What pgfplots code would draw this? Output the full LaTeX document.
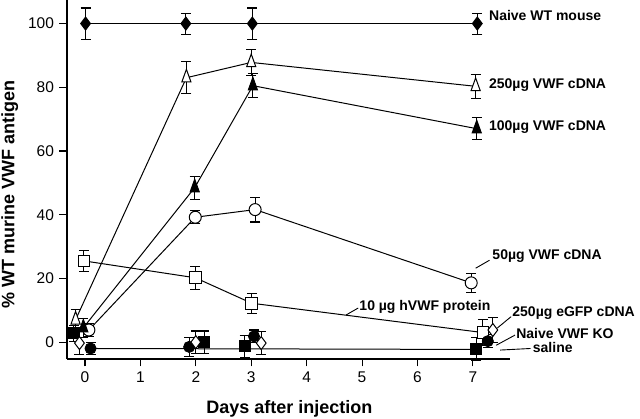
\documentclass[border=0pt]{standalone}
\usepackage{pgfplots}
\pgfplotsset{compat=1.18}
\usepackage{fontspec}
\setmainfont{Liberation Sans}
\begin{document}
\begin{tikzpicture}
\useasboundingbox (-67pt,-60pt) rectangle (573pt,359pt);
\begin{axis}[
 at={(0,0)}, anchor=south west,
 scale only axis, width=443pt, height=359pt,
 xmin=-0.325, xmax=7.67, ymin=-5.3, ymax=107.4,
 axis x line*=bottom, axis y line*=left,
 axis line style={line width=1.2pt, -},
 tick align=outside, major tick length=7.5pt,
 tick style={line width=1.1pt, black},
 xtick={0,...,7}, ytick={0,20,...,100},
 clip=false,
 /pgf/number format/assume math mode=true,
 tick label style={font=\fontsize{15.5}{16}\selectfont},
 xticklabel style={yshift=-2pt},
 yticklabel style={xshift=-2pt},
 xlabel={Days after injection}, ylabel={\% WT murine VWF antigen},
 label style={font=\bfseries\fontsize{18}{20}\selectfont},
 xlabel style={at={(axis description cs:0.502,-0.139)},anchor=center},
 ylabel style={at={(axis description cs:-0.129,0.457)},anchor=center},
 error bars/y dir=both, error bars/y explicit,
 error bars/error mark options={rotate=90, mark size=5pt, line width=1.1pt},
 error bars/error bar style={line width=1.1pt},
]
% flat line near -2
\addplot[black, line width=1pt, no marks] coordinates {(0.1,-2) (7.06,-2.3)};
% 10 ug hVWF protein (open square)
\addplot[black, line width=1pt, mark=square*, mark size=5.8pt, mark options={fill=white}] table[x=x,y=y,y error=e,row sep=\\] {
x y e\\
-0.02 25.5 3.4\\
1.99 20.2 3.6\\
3.01 12.2 3.1\\
7.18 3.0 4.0\\
};
% 50 ug VWF cDNA (open circle)
\addplot[black, line width=1pt, mark=*, mark size=6pt, mark options={fill=white}] table[x=x,y=y,y error=e,row sep=\\] {
x y e\\
0.07 3.8 2.0\\
1.99 39.2 2.0\\
3.07 41.6 3.9\\
6.97 18.6 3.0\\
};
% 100 ug VWF cDNA (filled triangle)
\addplot[black, line width=1pt, mark=triangle*, mark size=7pt, mark options={fill=black, xscale=0.75, yscale=1.2}] table[x=x,y=y,y error=e,row sep=\\] {
x y e\\
-0.03 4.5 3.0\\
1.98 48.5 3.6\\
3.03 80.5 3.7\\
7.07 67.0 3.5\\
};
% 250 ug VWF cDNA (open triangle)
\addplot[black, line width=1pt, mark=triangle*, mark size=7pt, mark options={fill=white, xscale=0.75, yscale=1.2}] table[x=x,y=y,y error=e,row sep=\\] {
x y e\\
-0.17 7.0 3.3\\
1.83 83.0 5.0\\
3.00 87.8 4.0\\
7.05 80.3 3.7\\
};
% Naive WT mouse (filled diamond)
\addplot[black, line width=1pt, mark=diamond*, mark size=6.5pt, mark options={fill=black}] table[x=x,y=y,y error=e,row sep=\\] {
x y e\\
0.01 100 4.9\\
1.82 100 3.3\\
3.02 100 4.9\\
7.08 100 3.3\\
};
% Naive VWF KO (filled square)
\addplot[black, line width=1pt, only marks, mark=square*, mark size=5.5pt, mark options={fill=black}] table[x=x,y=y,y error=e,row sep=\\] {
x y e\\
-0.2 2.8 2.5\\
2.15 0.0 3.5\\
2.88 -1.3 3.5\\
7.06 -2.2 3.6\\
};
% saline (filled circle)
\addplot[black, line width=1pt, only marks, mark=*, mark size=5.5pt, mark options={fill=black}] table[x=x,y=y,y error=e,row sep=\\] {
x y e\\
0.10 -2.0 2.0\\
1.88 -1.5 3.0\\
3.05 1.8 2.0\\
7.27 0.3 2.0\\
};
% 250 ug eGFP cDNA (open diamond)
\addplot[black, line width=1pt, only marks, mark=diamond*, mark size=6.5pt, mark options={fill=white}] table[x=x,y=y,y error=e,row sep=\\] {
x y e\\
-0.10 -0.3 3.5\\
2.00 0.0 3.5\\
3.18 -0.3 3.5\\
7.36 3.8 4.0\\
};
% labels
\tikzset{lab/.style={anchor=west, inner sep=0pt, font=\bfseries\fontsize{14}{14}\selectfont}}
\node[lab] at (axis cs:7.29,102.4) {Naive WT mouse};
\node[lab] at (axis cs:7.29,80.7) {250µg VWF cDNA};
\node[lab] at (axis cs:7.29,67.4) {100µg VWF cDNA};
\node[lab] at (axis cs:7.35,27) {50µg VWF cDNA};
\draw[line width=0.9pt] (axis cs:7.05,23.2) -- (axis cs:7.3,25.7);
\node[lab] at (axis cs:4.95,11.1) {10 µg hVWF protein};
\draw[line width=0.9pt] (axis cs:4.71,8.5) -- (axis cs:4.93,10.7);
\node[lab] at (axis cs:7.71,9) {250µg eGFP cDNA};
\draw[line width=0.9pt] (axis cs:7.44,4.4) -- (axis cs:7.69,8);
\node[lab] at (axis cs:7.78,2.8) {Naive VWF KO};
\draw[line width=0.9pt] (axis cs:7.42,-1) -- (axis cs:7.76,2.2);
\node[lab] at (axis cs:8.08,-1.7) {saline};
\draw[line width=0.9pt] (axis cs:7.49,-2.5) -- (axis cs:8.04,-2);
\end{axis}
\end{tikzpicture}
\end{document}
